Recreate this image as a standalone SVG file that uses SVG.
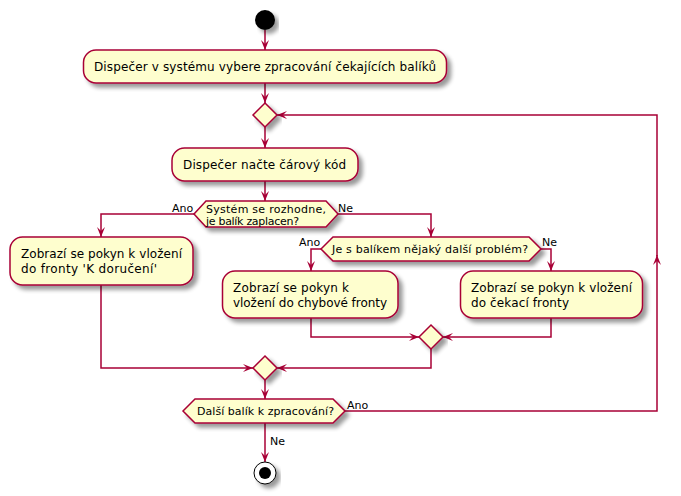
<svg xmlns="http://www.w3.org/2000/svg" width="681" height="496" viewBox="0 0 681 496">
<defs>
<filter id="sh" x="-10%" y="-20%" width="130%" height="160%">
<feGaussianBlur in="SourceAlpha" stdDeviation="2"/>
<feOffset dx="4" dy="4" result="b"/>
<feComponentTransfer><feFuncA type="linear" slope="0.4"/></feComponentTransfer>
<feMerge><feMergeNode/><feMergeNode in="SourceGraphic"/></feMerge>
</filter>
<marker id="ah" viewBox="0 0 10 8" refX="10" refY="4" markerWidth="10" markerHeight="8" markerUnits="userSpaceOnUse" orient="auto">
<path d="M0,0 L10,4 L0,8 L4,4 Z" fill="#A80036"/>
</marker>
</defs>
<style>
.n{fill:#FEFECE;stroke:#A80036;stroke-width:1.5;filter:url(#sh)}
.e{fill:none;stroke:#A80036;stroke-width:1.5}
.a{marker-end:url(#ah)}
.t{font-family:"DejaVu Sans",sans-serif;font-size:12px;fill:#000}
.s{font-family:"DejaVu Sans",sans-serif;font-size:11px;fill:#000}
</style>
<rect width="681" height="496" fill="#FFFFFF"/>
<g id="connectors">
<path class="e a" d="M265,30 L265,50"/>
<path class="e a" d="M265,83 L265,103"/>
<path class="e a" d="M265,127 L265,148"/>
<path class="e a" d="M265,181 L265,201"/>
<path class="e a" d="M194,214 L101,214 L101,237"/>
<path class="e a" d="M338,214 L431,214 L431,237"/>
<path class="e a" d="M321,249 L311,249 L311,271"/>
<path class="e a" d="M541,249 L551,249 L551,271"/>
<path class="e a" d="M311,318 L311,337 L419,337"/>
<path class="e a" d="M551,318 L551,337 L443,337"/>
<path class="e a" d="M101,285 L101,368 L253,368"/>
<path class="e a" d="M431,349 L431,368 L277,368"/>
<path class="e a" d="M265,380 L265,399"/>
<path class="e a" d="M345,411 L657,411 L657,255"/>
<path class="e a" d="M657,256 L657,115 L277,115"/>
<path class="e a" d="M265,423 L265,462"/>
<text class="s" x="172" y="212">Ano</text>
<text class="s" x="338" y="212">Ne</text>
<text class="s" x="299" y="246">Ano</text>
<text class="s" x="542" y="246">Ne</text>
<text class="s" x="347" y="409">Ano</text>
<text class="s" x="270" y="445">Ne</text>
</g>
<g id="start"><circle cx="265" cy="20" r="10" fill="#000" style="filter:url(#sh)"/></g>
<g id="a1"><rect class="n" x="83.5" y="50" width="363" height="33" rx="12.5"/><text class="t" x="94" y="71" textLength="342" lengthAdjust="spacing">Dispečer v systému vybere zpracování čekajících balíků</text></g>
<g id="m1"><polygon class="n" points="265,103 277,115 265,127 253,115"/></g>
<g id="a2"><rect class="n" x="172" y="148" width="186" height="33" rx="12.5"/><text class="t" x="183" y="169" textLength="163" lengthAdjust="spacing">Dispečer načte čárový kód</text></g>
<g id="d1"><polygon class="n" points="194,214 206,201 326,201 338,214 326,227 206,227"/><text class="s" x="206" y="213" textLength="120" lengthAdjust="spacing">Systém se rozhodne,</text><text class="s" x="206" y="225" textLength="93" lengthAdjust="spacing">je balík zaplacen?</text></g>
<g id="a3"><rect class="n" x="10" y="237" width="183" height="48" rx="12.5"/><text class="t" x="21" y="258" textLength="161" lengthAdjust="spacing">Zobrazí se pokyn k vložení</text><text class="t" x="21" y="273" textLength="136" lengthAdjust="spacing">do fronty 'K doručení'</text></g>
<g id="d2"><polygon class="n" points="321,249 333,237 529,237 541,249 529,261 333,261"/><text class="s" x="332" y="253" textLength="196" lengthAdjust="spacing">Je s balíkem nějaký další problém?</text></g>
<g id="a4"><rect class="n" x="222.5" y="271" width="175.5" height="47" rx="12.5"/><text class="t" x="233" y="292" textLength="116" lengthAdjust="spacing">Zobrazí se pokyn k</text><text class="t" x="233" y="307" textLength="154" lengthAdjust="spacing">vložení do chybové fronty</text></g>
<g id="a5"><rect class="n" x="460.5" y="271" width="182" height="47" rx="12.5"/><text class="t" x="471" y="292" textLength="161" lengthAdjust="spacing">Zobrazí se pokyn k vložení</text><text class="t" x="471" y="307" textLength="98" lengthAdjust="spacing">do čekací fronty</text></g>
<g id="m3"><polygon class="n" points="431,325 443,337 431,349 419,337"/></g>
<g id="m2"><polygon class="n" points="265,356 277,368 265,380 253,368"/></g>
<g id="d3"><polygon class="n" points="183,411 195,399 333,399 345,411 333,423 195,423"/><text class="s" x="197" y="415" textLength="137" lengthAdjust="spacing">Další balík k zpracování?</text></g>
<g id="end"><circle cx="265" cy="473" r="11" fill="#FFFFFF" stroke="#000" stroke-width="1" style="filter:url(#sh)"/><circle cx="265" cy="473" r="6" fill="#000"/></g>
</svg>
